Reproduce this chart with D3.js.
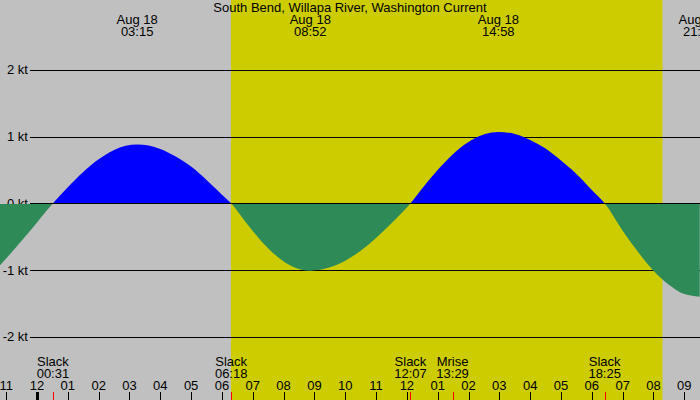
<!DOCTYPE html>
<html><head><meta charset="utf-8">
<script src="https://cdn.jsdelivr.net/npm/d3@7"></script>
<style>html,body{margin:0;padding:0;background:#c0c0c0;overflow:hidden}svg{display:block}</style>
</head><body>
<svg id="c" width="700" height="400"></svg>
<script>
// ---- data (hours after midnight, Aug 18) ----
const titleText = "South Bend, Willapa River, Washington Current";
const curTimes  = [-1.2,-0.7,-0.2,0.517,1.0,1.5,2.0,2.5,3.25,4.0,4.5,5.0,5.5,6.0,6.3,6.8,7.3,7.8,8.3,8.867,9.5,10.0,10.5,11.0,11.5,12.117,12.6,13.1,13.6,14.1,14.967,15.5,16.0,16.5,17.0,17.5,18.0,18.417,19.0,19.5,20.0,20.5,21.0,21.5];
const curValues = [-0.93,-0.67,-0.40,0,0.24,0.47,0.66,0.80,0.88,0.815,0.70,0.55,0.35,0.13,0,-0.30,-0.58,-0.80,-0.95,-1.01,-0.96,-0.86,-0.71,-0.52,-0.30,0,0.28,0.55,0.78,0.95,1.07,1.04,0.95,0.82,0.64,0.44,0.20,0,-0.41,-0.73,-1.01,-1.22,-1.36,-1.40];
const peakTimes  = [3.25, 8.867, 14.967, 21.483];
const peakLabels = ["03:15","08:52","14:58","21:29"];
const peakDate   = "Aug 18";
const eventTimes  = [0.517, 6.3, 12.117, 13.483, 18.417];
const eventNames  = ["Slack","Slack","Slack","Mrise","Slack"];
const eventLabels = ["00:31","06:18","12:07","13:29","18:25"];
const hourTicks  = [-1,0,1,2,3,4,5,6,7,8,9,10,11,12,13,14,15,16,17,18,19,20,21];
const hourLabels = ["11","12","01","02","03","04","05","06","07","08","09","10","11","12","01","02","03","04","05","06","07","08","09"];
const daylight   = [6.29, 20.29];
const ktTicks    = [-2,-1,0,1,2];

// ---- drawing ----
const W = 700, H = 400;
const svg = d3.select("#c");
const font = "'Liberation Sans', Arial, sans-serif";
const fs = 13;
const x = d3.scaleLinear().domain([0, 21]).range([37, 684.3]);
const y = d3.scaleLinear().domain([0, 1]).range([203.3, 136.6]);

svg.append("rect").attr("width", W).attr("height", H).attr("fill", "#c0c0c0");
svg.append("rect").attr("x", x(daylight[0])).attr("y", 0)
  .attr("width", x(daylight[1]) - x(daylight[0])).attr("height", H).attr("fill", "#cccc00");

// grid lines
svg.append("g").selectAll("line").data(ktTicks).join("line")
  .attr("x1", 30).attr("x2", W).attr("y1", d => Math.round(y(d)) + 0.5).attr("y2", d => Math.round(y(d)) + 0.5)
  .attr("stroke", "#000").attr("stroke-width", 1);
svg.append("g").selectAll("text").data(ktTicks).join("text")
  .attr("x", 28).attr("y", d => y(d) + 4.5).attr("text-anchor", "end")
  .attr("font-family", font).attr("font-size", fs).attr("fill", "#000")
  .text(d => d + " kt");

// current area
const pts = curTimes.map((t, i) => [t, curValues[i]]);
const area = d3.area().x(d => x(d[0])).y0(y(0)).y1(d => y(d[1])).curve(d3.curveMonotoneX);
const defs = svg.append("defs");
defs.append("clipPath").attr("id", "pos").append("rect").attr("x", 0).attr("y", 0).attr("width", W).attr("height", y(0) - 0.3);
defs.append("clipPath").attr("id", "neg").append("rect").attr("x", 0).attr("y", y(0) + 0.7).attr("width", W).attr("height", H);
svg.append("path").datum(pts).attr("d", area).attr("fill", "#0000ff").attr("clip-path", "url(#pos)");
svg.append("path").datum(pts).attr("d", area).attr("fill", "#2e8b57").attr("clip-path", "url(#neg)");

// title
svg.append("text").attr("x", W / 2).attr("y", 12).attr("text-anchor", "middle")
  .attr("font-family", font).attr("font-size", fs).attr("fill", "#000").text(titleText);

// peak labels
const pk = svg.append("g").selectAll("g").data(peakTimes).join("g");
pk.append("text").attr("x", d => x(d)).attr("y", 23.5).attr("text-anchor", "middle")
  .attr("font-family", font).attr("font-size", fs).attr("fill", "#000").text(peakDate);
pk.append("text").attr("x", d => x(d)).attr("y", 36).attr("text-anchor", "middle")
  .attr("font-family", font).attr("font-size", fs).attr("fill", "#000").text((d, i) => peakLabels[i]);

// event labels
const ev = svg.append("g").selectAll("g").data(eventTimes).join("g");
ev.append("text").attr("x", d => x(d)).attr("y", 366).attr("text-anchor", "middle")
  .attr("font-family", font).attr("font-size", fs).attr("fill", "#000").text((d, i) => eventNames[i]);
ev.append("text").attr("x", d => x(d)).attr("y", 378).attr("text-anchor", "middle")
  .attr("font-family", font).attr("font-size", fs).attr("fill", "#000").text((d, i) => eventLabels[i]);
ev.append("line").attr("x1", d => Math.round(x(d)) + 0.5).attr("x2", d => Math.round(x(d)) + 0.5)
  .attr("y1", 392).attr("y2", H).attr("stroke", "#ff0000").attr("stroke-width", 1);

// hour axis
const hg = svg.append("g").selectAll("g").data(hourTicks).join("g");
hg.append("line").attr("x1", d => Math.round(x(d)) + 0.5).attr("x2", d => Math.round(x(d)) + 0.5)
  .attr("y1", 392).attr("y2", H).attr("stroke", "#000").attr("stroke-width", d => d === 0 ? 3 : 1);
hg.append("text").attr("x", d => x(d)).attr("y", 390).attr("text-anchor", "middle")
  .attr("font-family", font).attr("font-size", fs).attr("fill", "#000").text((d, i) => hourLabels[i]);
</script>
</body></html>
